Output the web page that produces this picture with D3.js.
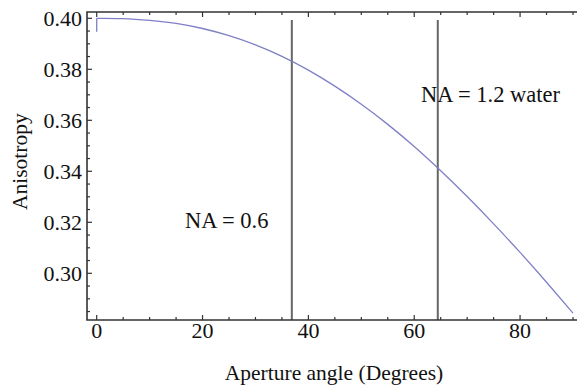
<!DOCTYPE html>
<html>
<head>
<meta charset="utf-8">
<script src="https://cdn.jsdelivr.net/npm/d3@7"></script>
<style>
  body { margin: 0; background: #fff; }
  svg text { font-family: "Liberation Serif", Tinos, FreeSerif; }
</style>
</head>
<body>
<script>
// anisotropy, every 5 degrees
const angles = [0, 5, 10, 15, 20, 25, 30, 35, 40, 45, 50, 55, 60, 65, 70, 75, 80, 85, 90];
const anisotropy = [0.4000, 0.3999, 0.3992, 0.3980, 0.3960, 0.3932, 0.3896, 0.3851, 0.3797, 0.3734,
    0.3663, 0.3584, 0.3497, 0.3402, 0.3301, 0.3194, 0.3082, 0.2965, 0.2844];

// short blue stub at the start of the curve
const stubX = [0, 0];
const stubY = [0.4000, 0.3947];

// vertical markers (aperture angles) and their labels
const markerAngles = [36.87, 64.45];
const markerLabels = ["NA = 0.6", "NA = 1.2 water"];
const labelPos = [[16.7, 0.3178], [61.3, 0.3673]];

const xTicks = [0, 20, 40, 60, 80];
const yTicks = [0.30, 0.32, 0.34, 0.36, 0.38, 0.40];

const width = 577, height = 387;
const frame = { left: 87, right: 582, top: 12, bottom: 320 };

const svg = d3.select("body").append("svg")
    .attr("width", width)
    .attr("height", height);

const x = d3.scaleLinear().domain([0, 90]).range([96.7, 573]);
const y = d3.scaleLinear().domain([0.30, 0.40]).range([273.3, 18.3]);

function label(sel, size) {
    return sel.attr("fill", "#111")
        .attr("font-family", "Liberation Serif")
        .style("font-family", "'Liberation Serif'")
        .style("font-size", size + "px");
}

// markers
svg.selectAll(".marker")
    .data(markerAngles)
    .join("line")
    .attr("x1", d => x(d)).attr("x2", d => x(d))
    .attr("y1", y(0.3993)).attr("y2", frame.bottom)
    .attr("stroke", "#666")
    .attr("stroke-width", 2);

// curve
const line = d3.line()
    .x((d, i) => x(angles[i]))
    .y(d => y(d))
    .curve(d3.curveNatural);

svg.append("path")
    .datum(anisotropy)
    .attr("d", line)
    .attr("fill", "none")
    .attr("stroke", "#7f7fc8")
    .attr("stroke-width", 1.3);

svg.append("line")
    .attr("x1", x(stubX[0])).attr("x2", x(stubX[1]))
    .attr("y1", y(stubY[0])).attr("y2", y(stubY[1]))
    .attr("stroke", "#7f7fc8")
    .attr("stroke-width", 1.3);

// frame
svg.append("path")
    .attr("d", `M${frame.right},${frame.top}H${frame.left}V${frame.bottom}H${frame.right}`)
    .attr("fill", "none")
    .attr("stroke", "#333")
    .attr("stroke-width", 1.6);

// ticks, inward on bottom, top and left
const xMinor = d3.range(0, 91, 5);
const yMinor = d3.range(0.285, 0.4026, 0.005);

svg.selectAll(".xt")
    .data(xMinor)
    .join("g")
    .each(function (d) {
        const len = d % 20 === 0 ? 5 : 3;
        const g = d3.select(this);
        g.append("line")
            .attr("x1", x(d)).attr("x2", x(d))
            .attr("y1", frame.bottom).attr("y2", frame.bottom - len)
            .attr("stroke", "#333").attr("stroke-width", 1.2);
        g.append("line")
            .attr("x1", x(d)).attr("x2", x(d))
            .attr("y1", frame.top).attr("y2", frame.top + len)
            .attr("stroke", "#333").attr("stroke-width", 1.2);
    });

svg.selectAll(".yt")
    .data(yMinor)
    .join("line")
    .attr("x1", frame.left)
    .attr("x2", d => frame.left + (Math.abs(Math.round(d * 100) - d * 100) < 1e-6 && Math.round(d * 100) % 2 === 0 ? 5 : 3))
    .attr("y1", d => y(d)).attr("y2", d => y(d))
    .attr("stroke", "#333").attr("stroke-width", 1.2);

// tick labels
svg.selectAll(".xl")
    .data(xTicks)
    .join("text")
    .attr("x", d => x(d))
    .attr("y", 337.5)
    .attr("text-anchor", "middle")
    .call(label, 22)
    .text(d => d);

svg.selectAll(".yl")
    .data(yTicks)
    .join("text")
    .attr("x", 82)
    .attr("y", d => y(d) + 7.5)
    .attr("text-anchor", "end")
    .call(label, 22)
    .text(d => d3.format(".2f")(d));

// axis titles
svg.append("text")
    .attr("x", 334)
    .attr("y", 380)
    .attr("text-anchor", "middle")
    .call(label, 21.5)
    .text("Aperture angle (Degrees)");

svg.append("text")
    .attr("transform", "translate(26.7,161.7) rotate(-90)")
    .attr("text-anchor", "middle")
    .call(label, 21.5)
    .text("Anisotropy");

// marker labels
svg.selectAll(".ml")
    .data(markerLabels)
    .join("text")
    .attr("x", (d, i) => x(labelPos[i][0]))
    .attr("y", (d, i) => y(labelPos[i][1]))
    .call(label, 22.5)
    .text(d => d);
</script>
</body>
</html>
